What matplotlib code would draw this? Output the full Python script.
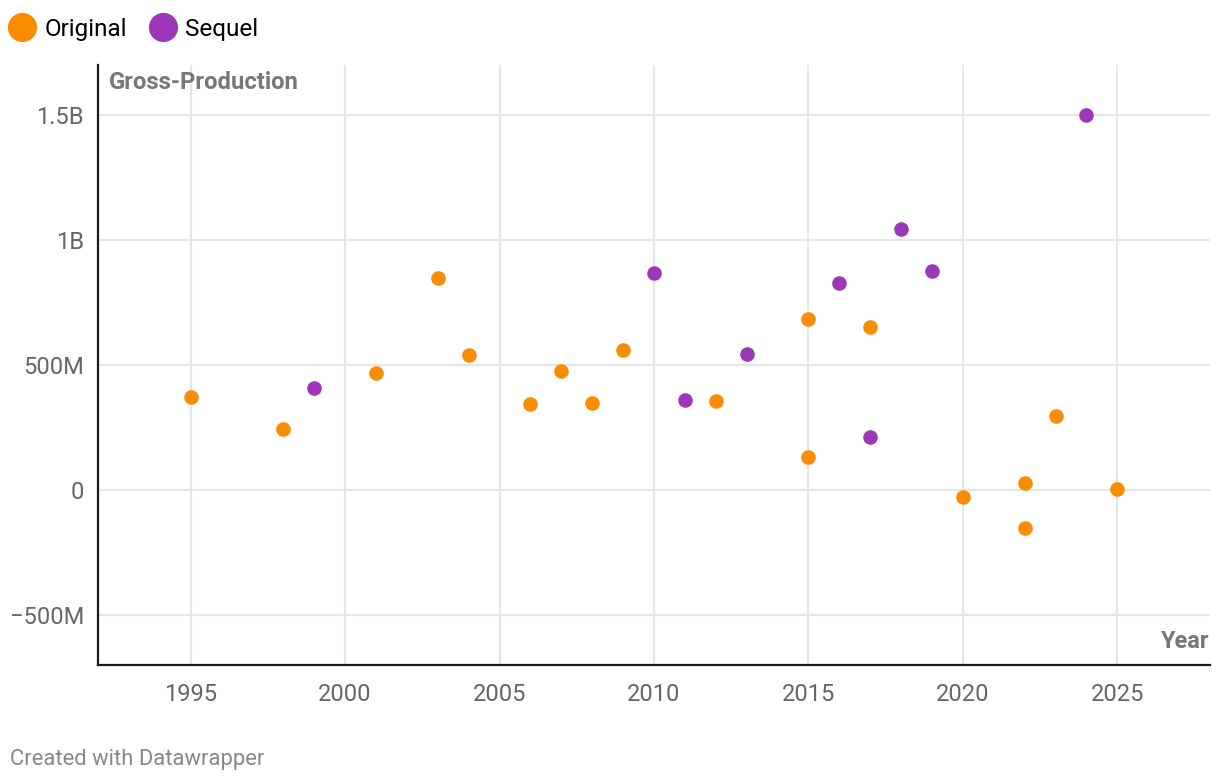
import numpy as np
import matplotlib.pyplot as plt
from matplotlib.lines import Line2D

plt.rcParams['font.family'] = ['Roboto', 'DejaVu Sans']

# Original films: year, gross minus production (millions)
orig_year = [1995, 1998, 2001, 2003, 2004, 2006, 2007, 2008, 2009, 2012,
             2015, 2015, 2017, 2020, 2022, 2022, 2023, 2025]
orig_val = [372, 244, 468, 848, 540, 344, 476, 348, 560, 356,
            684, 132, 652, -28, 28, -152, 296, 4]

# Sequels
seq_year = [1999, 2010, 2011, 2013, 2016, 2017, 2018, 2019, 2024]
seq_val = [408, 868, 360, 544, 828, 212, 1044, 876, 1500]

x_ticks = [1995, 2000, 2005, 2010, 2015, 2020, 2025]
y_ticks = [-500, 0, 500, 1000, 1500]
y_labels = ['\u2212500M', '0', '500M', '1B', '1.5B']

ORANGE = '#fb8c00'
PURPLE = '#9c37b8'

fig = plt.figure(figsize=(12.2, 7.82), dpi=100)
ax = fig.add_axes([98/1220, 117/782, 1112/1220, 600/782])

ax.scatter(orig_year, orig_val, s=110, color=ORANGE, zorder=3, linewidths=0)
ax.scatter(seq_year, seq_val, s=110, color=PURPLE, zorder=3, linewidths=0)

ax.set_xlim(1992, 2028)
ax.set_ylim(-700, 1700)
ax.set_xticks(x_ticks)
ax.set_yticks(y_ticks)
ax.set_yticklabels(y_labels)
ax.tick_params(axis='both', length=0, labelsize=17, labelcolor='#666666')
ax.tick_params(axis='x', pad=13)
ax.tick_params(axis='y', pad=10)
ax.grid(True, color='#e6e6e6', linewidth=1.5, zorder=0)
ax.set_axisbelow(True)

for s in ['top', 'right']:
    ax.spines[s].set_visible(False)
for s in ['left', 'bottom']:
    ax.spines[s].set_color('#1a1a1a')
    ax.spines[s].set_linewidth(1.6)

ax.text(0.01, 0.99, 'Gross-Production', transform=ax.transAxes, fontsize=17.2,
        fontweight='bold', color='#777777', ha='left', va='top')
ax.text(0.999, 0.04, 'Year', transform=ax.transAxes, fontsize=17,
        fontweight='bold', color='#777777', ha='right', va='center')

handles = [Line2D([], [], marker='o', linestyle='', markersize=20, color=ORANGE, label='Original'),
           Line2D([], [], marker='o', linestyle='', markersize=20, color=PURPLE, label='Sequel')]
fig.legend(handles=handles, loc='upper left', bbox_to_anchor=(-0.0145, 1.005), ncol=2,
           frameon=False, fontsize=17.5, handletextpad=0.15, columnspacing=0.75,
           handlelength=1.5)

fig.text(10/1220, 1 - 759/782, 'Created with Datawrapper', fontsize=15.8,
         color='#888888', ha='left', va='center')

fig.savefig('out.png', dpi=100)
